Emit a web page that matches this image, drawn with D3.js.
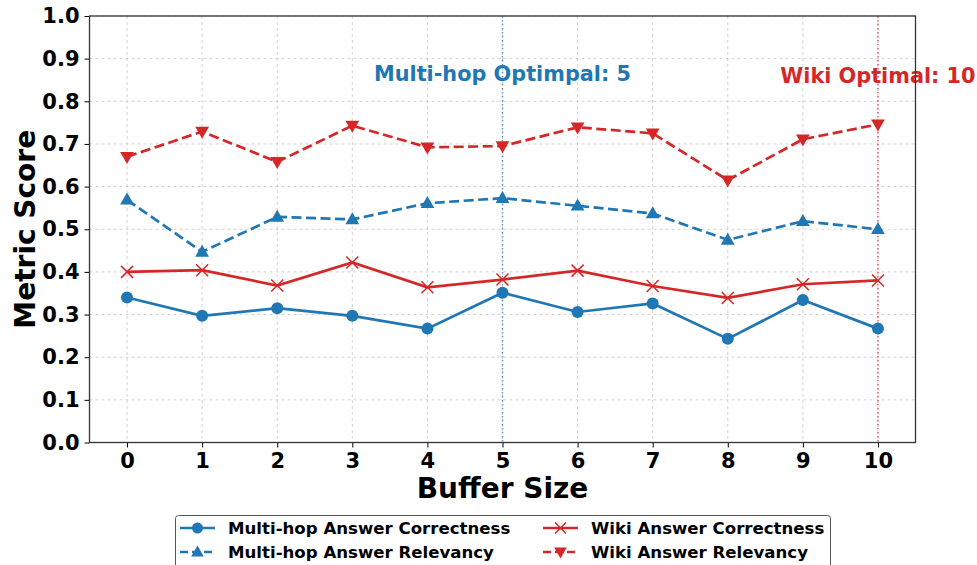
<!DOCTYPE html>
<html>
<head>
<meta charset="UTF-8">
<script src="https://cdn.jsdelivr.net/npm/d3@7"></script>
<style>
  body { margin: 0; background: #fff; }
  svg text { font-family: "DejaVu Sans", sans-serif; font-weight: bold; }
</style>
</head>
<body>
<svg width="977" height="565"></svg>
<script>
// buffer sizes on the x axis
const bufferSizes = [0, 1, 2, 3, 4, 5, 6, 7, 8, 9, 10];
const yTicks = [0.0, 0.1, 0.2, 0.3, 0.4, 0.5, 0.6, 0.7, 0.8, 0.9, 1.0];

// values
const multihopCorrectness = [0.340, 0.297, 0.315, 0.297, 0.267, 0.351, 0.306, 0.326, 0.243, 0.334, 0.267];
const multihopRelevancy   = [0.569, 0.447, 0.529, 0.523, 0.561, 0.573, 0.555, 0.537, 0.475, 0.519, 0.500];
const wikiCorrectness     = [0.400, 0.404, 0.368, 0.422, 0.364, 0.382, 0.403, 0.367, 0.339, 0.371, 0.380];
const wikiRelevancy       = [0.670, 0.729, 0.658, 0.743, 0.692, 0.695, 0.739, 0.725, 0.615, 0.711, 0.746];

const multihopOptimal = 5;
const wikiOptimal = 10;

const blue = "#1f77b4", red = "#d62728";

const series = [
  { name: "Multi-hop Answer Correctness", values: multihopCorrectness, color: blue, dash: null, marker: "circle" },
  { name: "Multi-hop Answer Relevancy", values: multihopRelevancy, color: blue, dash: "10,4.5", marker: "up" },
  { name: "Wiki Answer Correctness", values: wikiCorrectness, color: red, dash: null, marker: "x" },
  { name: "Wiki Answer Relevancy", values: wikiRelevancy, color: red, dash: "10,4.5", marker: "down" }
];

const svg = d3.select("svg");
const margin = { left: 89.5, right: 977 - 915.5, top: 16, bottom: 565 - 442.5 };
const width = 977 - margin.left - margin.right;
const height = 565 - margin.top - margin.bottom;

const x = d3.scaleLinear().domain([-0.5, 10.5]).range([0, width]);
const y = d3.scaleLinear().domain([0, 1]).range([height, 0]);

const g = svg.append("g").attr("transform", `translate(${margin.left},${margin.top})`);

// grid
g.append("g").selectAll("line").data(bufferSizes).enter().append("line")
  .attr("x1", d => x(d)).attr("x2", d => x(d))
  .attr("y1", 0).attr("y2", height)
  .attr("stroke", "#b0b0b0").attr("stroke-opacity", 0.7)
  .attr("stroke-width", 0.8).attr("stroke-dasharray", "3,3");
g.append("g").selectAll("line").data(yTicks).enter().append("line")
  .attr("x1", 0).attr("x2", width)
  .attr("y1", d => y(d)).attr("y2", d => y(d))
  .attr("stroke", "#b0b0b0").attr("stroke-opacity", 0.7)
  .attr("stroke-width", 0.8).attr("stroke-dasharray", "3,3");

// optimal markers
g.append("line")
  .attr("x1", x(multihopOptimal)).attr("x2", x(multihopOptimal))
  .attr("y1", 0).attr("y2", height)
  .attr("stroke", blue).attr("stroke-opacity", 0.7)
  .attr("stroke-width", 1.5).attr("stroke-dasharray", "1.5,2.5");
g.append("line")
  .attr("x1", x(wikiOptimal)).attr("x2", x(wikiOptimal))
  .attr("y1", 0).attr("y2", height)
  .attr("stroke", red).attr("stroke-opacity", 0.7)
  .attr("stroke-width", 1.5).attr("stroke-dasharray", "1.5,2.5");

g.append("text")
  .attr("x", x(multihopOptimal)).attr("y", y(0.85) + 1)
  .attr("text-anchor", "middle").attr("font-size", "20.8px")
  .attr("fill", blue)
  .text("Multi-hop Optimpal: " + multihopOptimal);
g.append("text")
  .attr("x", x(wikiOptimal)).attr("y", y(0.845) + 1)
  .attr("text-anchor", "middle").attr("font-size", "20.8px")
  .attr("fill", red)
  .text("Wiki Optimal: " + wikiOptimal);

// markers
function drawMarker(sel, type, color, s) {
  if (type === "circle") {
    sel.append("circle").attr("r", s).attr("fill", color);
  } else if (type === "up") {
    sel.append("path").attr("d", `M0,${-s * 1.2}L${s * 1.15},${s * 0.8}L${-s * 1.15},${s * 0.8}Z`).attr("fill", color);
  } else if (type === "down") {
    sel.append("path").attr("d", `M0,${s * 1.2}L${s * 1.15},${-s * 0.8}L${-s * 1.15},${-s * 0.8}Z`).attr("fill", color);
  } else if (type === "x") {
    sel.append("path").attr("d", `M${-s},${-s}L${s},${s}M${-s},${s}L${s},${-s}`)
      .attr("stroke", color).attr("stroke-width", 1.5).attr("fill", "none");
  }
}

const line = d3.line().x((d, i) => x(bufferSizes[i])).y(d => y(d));

series.forEach(s => {
  g.append("path").datum(s.values)
    .attr("d", line)
    .attr("fill", "none")
    .attr("stroke", s.color)
    .attr("stroke-width", 2.7)
    .attr("stroke-dasharray", s.dash);
  g.append("g").selectAll("g").data(s.values).enter().append("g")
    .attr("transform", (d, i) => `translate(${x(bufferSizes[i])},${y(d)})`)
    .each(function () { drawMarker(d3.select(this), s.marker, s.color, 6); });
});

// axes
const xAxis = g.append("g").attr("transform", `translate(0,${height})`)
  .call(d3.axisBottom(x).tickValues(bufferSizes).tickSize(5).tickPadding(6).tickFormat(d3.format("d")));
const yAxis = g.append("g")
  .call(d3.axisLeft(y).tickValues(yTicks).tickSize(5).tickPadding(5).tickFormat(d3.format(".1f")));
[xAxis, yAxis].forEach(a => {
  a.select(".domain").remove();
  a.selectAll("text").attr("font-size", "21px").attr("fill", "#000");
  a.selectAll("line").attr("stroke", "#000").attr("stroke-width", 1);
});

// frame
g.append("rect").attr("width", width).attr("height", height)
  .attr("fill", "none").attr("stroke", "#333").attr("stroke-width", 1.3);

// axis labels
svg.append("text")
  .attr("x", margin.left + width / 2).attr("y", 498)
  .attr("text-anchor", "middle").attr("font-size", "28px")
  .text("Buffer Size");
svg.append("text")
  .attr("transform", `translate(${35},${margin.top + height / 2}) rotate(-90)`)
  .attr("text-anchor", "middle").attr("font-size", "28px")
  .text("Metric Score");

// legend
const legend = svg.append("g");
legend.append("rect")
  .attr("x", 175.5).attr("y", 515.5).attr("width", 655).attr("height", 60).attr("rx", 3)
  .attr("fill", "#fff").attr("stroke", "#555").attr("stroke-width", 1);
const cols = [180, 543];
const rows = [528, 552];
series.forEach((s, idx) => {
  const col = cols[Math.floor(idx / 2)], row = rows[idx % 2];
  const it = legend.append("g").attr("transform", `translate(${col},${row})`);
  it.append("line").attr("x1", 0).attr("x2", 35).attr("y1", 0).attr("y2", 0)
    .attr("stroke", s.color).attr("stroke-width", 2.7).attr("stroke-dasharray", s.dash ? "8,4" : null);
  const m = it.append("g").attr("transform", "translate(17.5,0)");
  drawMarker(m, s.marker, s.color, 5.5);
  it.append("text").attr("x", 48).attr("y", 6).attr("font-size", "16.6px").text(s.name);
});
</script>
</body>
</html>
